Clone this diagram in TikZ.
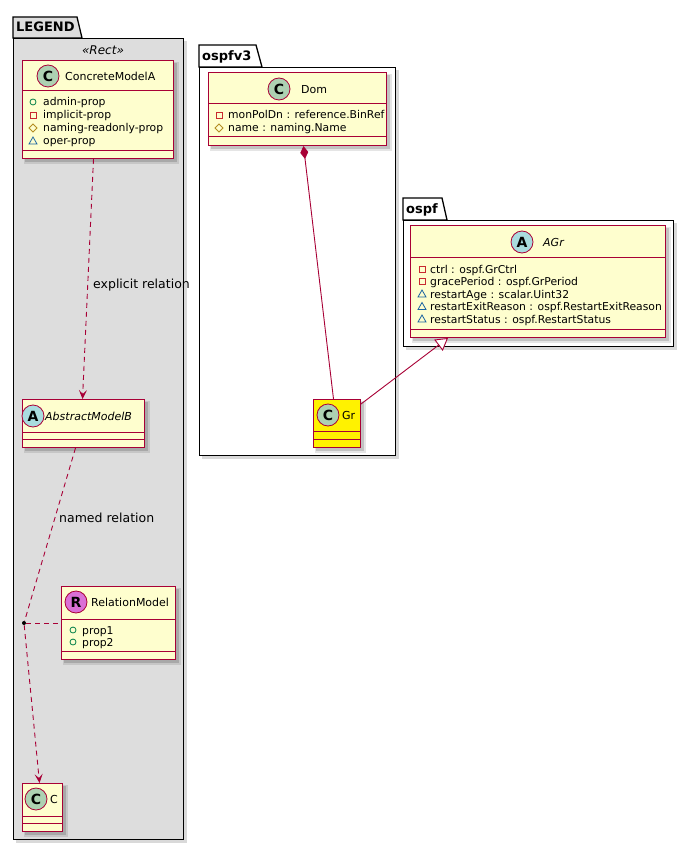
\documentclass[tikz,border=0pt]{standalone}
\usepackage{fontspec}
\setmainfont{DejaVu Sans}
\usetikzlibrary{arrows.meta,shapes.geometric}
\definecolor{bord}{HTML}{A80036}
\definecolor{clsfill}{HTML}{FEFECE}
\definecolor{pkgfill}{HTML}{DDDDDD}
\definecolor{circC}{HTML}{ADD1B2}
\definecolor{circA}{HTML}{A9DCDF}
\definecolor{circR}{HTML}{DA70D6}
\definecolor{vpub}{HTML}{038048}
\definecolor{vpriv}{HTML}{C82930}
\definecolor{vprot}{HTML}{B38D22}
\definecolor{vpkg}{HTML}{1963A0}
\tikzset{
  clsbox/.style={draw=bord, line width=1pt, rectangle, inner sep=0pt, anchor=north west},
  divline/.style={draw=bord, line width=1pt},
  pkgbox/.style={draw=black, line width=1.3pt, rectangle, inner sep=0pt, anchor=north west},
  pkgtab/.style={draw=black, line width=1.3pt, line join=miter},
  pkgtitle/.style={font=\bfseries\fontsize{13}{14}\selectfont, anchor=base west, inner sep=0pt},
  badge/.style={circle, draw=bord, line width=0.8pt, minimum size=22pt, inner sep=0pt,
    font=\bfseries\fontsize{14}{14}\selectfont},
  cname/.style={font=\fontsize{11}{13}\selectfont, anchor=base west, inner sep=0pt},
  attrtext/.style={font=\fontsize{10.8}{12}\selectfont, anchor=base west, inner sep=0pt},
  lbl/.style={font=\fontsize{12.5}{14}\selectfont, anchor=base west, inner sep=0pt},
  rel/.style={draw=bord, line width=0.9pt},
  reldash/.style={rel, dash pattern=on 5pt off 4pt},
}
% class box: name, x1, y1, w, h, fill, div1, div2
\newcommand{\umlclass}[8]{%
  \fill[black,opacity=.10] (#2+2,#3+2) rectangle (#2+#4+6,#3+#5+6);
  \fill[black,opacity=.15] (#2+3,#3+3) rectangle (#2+#4+4,#3+#5+4);
  \node[clsbox, fill=#6, minimum width=#4pt, minimum height=#5pt] (#1) at (#2,#3) {};
  \draw[divline] (#2,#7) -- (#2+#4,#7);
  \draw[divline] (#2,#8) -- (#2+#4,#8);
}
% attribute: name, x icon, y center, type, text
\newcommand{\attrpub}[2]{\draw[vpub, line width=0.8pt] (#1,#2) circle (3pt);}
\newcommand{\attrpriv}[2]{\draw[vpriv, line width=0.8pt] (#1-3,#2-3) rectangle (#1+3,#2+3);}
\newcommand{\attrprot}[2]{\draw[vprot, line width=0.8pt] (#1,#2-4) -- (#1+4,#2) -- (#1,#2+4) -- (#1-4,#2) -- cycle;}
\newcommand{\attrpkg}[2]{\draw[vpkg, line width=0.8pt, line join=miter] (#1-4,#2+3) -- (#1+4,#2+3) -- (#1,#2-4) -- cycle;}
\begin{document}
\begin{tikzpicture}[x=1pt,y=-1pt]
\useasboundingbox (0,0) rectangle (693,850);
\fill[white] (0,0) rectangle (693,850);

% ================= LEGEND package =================
\fill[black,opacity=.15] (16,41) rectangle (187,843);
\node[pkgbox, fill=pkgfill, minimum width=170pt, minimum height=801pt] (legend) at (13,38) {};
\draw[pkgtab, fill=pkgfill] (13,38) -- (13,17) -- (77,17) -- (82,38) -- cycle;
\node[pkgtitle] (legendT) at (16,32) {LEGEND};
\node[font=\itshape\fontsize{12}{14}\selectfont, inner sep=0pt] (rectst) at (103,50) {«Rect»};

% ConcreteModelA
\umlclass{concA}{22}{60}{151}{98}{clsfill}{91}{151}
\node[badge, fill=circC] (concAb) at (48,76) {C};
\node[cname] (concAn) at (65,80.5) {ConcreteModelA};
\attrpub{33}{102}  \node[attrtext] (ca1) at (43,106) {admin-prop};
\attrpriv{33}{115} \node[attrtext] (ca2) at (43,119) {implicit-prop};
\attrprot{33}{128} \node[attrtext] (ca3) at (43,132) {naming-readonly-prop};
\attrpkg{33}{141}  \node[attrtext] (ca4) at (43,145) {oper-prop};

% AbstractModelB
\umlclass{absB}{22}{399}{122}{48}{clsfill}{432}{439}
\node[badge, fill=circA] (absBb) at (33,416) {A};
\node[cname, font=\itshape\fontsize{11}{13}\selectfont] (absBn) at (45,420.5) {AbstractModelB};

% RelationModel
\umlclass{relM}{61}{586}{114}{73}{clsfill}{619}{651}
\node[badge, fill=circR] (relMb) at (76,602) {R};
\node[cname] (relMn) at (91,606.5) {RelationModel};
\attrpub{73}{630} \node[attrtext] (rm1) at (82,634) {prop1};
\attrpub{73}{642} \node[attrtext] (rm2) at (82,646) {prop2};

% C
\umlclass{clsC}{22}{783}{40}{48}{clsfill}{816}{823}
\node[badge, fill=circC] (clsCb) at (36,799) {C};
\node[cname] (clsCn) at (50,803.5) {C};

% relations in legend
\node[circle, fill=black, inner sep=0pt, minimum size=4pt] (dot) at (24,623) {};
\draw[reldash, -{Stealth[length=9pt,width=8pt,inset=4pt]}] ([xshift=-4.5pt]concA.south) -- ([xshift=-1pt]absB.north);
\node[lbl] (lblexp) at (93,288) {explicit relation};
\draw[reldash] ([xshift=-8pt]absB.south) -- (dot);
\node[lbl] (lblnamed) at (59,522) {named relation};
\draw[reldash, -{Stealth[length=9pt,width=8pt,inset=4pt]}] (dot) -- ([xshift=-3pt]clsC.north);
\draw[reldash] (dot) -- (relM.west);

% ================= ospfv3 package =================
\fill[black,opacity=.15] (202,70) rectangle (399,459);
\node[pkgbox, fill=white, minimum width=196pt, minimum height=388pt] (ospfv3) at (199,67) {};
\draw[pkgtab, fill=white] (199,67) -- (199,45) -- (256,45) -- (262,67) -- cycle;
\node[pkgtitle] (ospfv3T) at (202,61) {ospfv3};

% Dom
\umlclass{dom}{208}{72}{178}{73}{clsfill}{104}{137}
\node[badge, fill=circC] (domb) at (279,89) {C};
\node[cname] (domn) at (301,93.5) {Dom};
\attrpriv{219}{115} \node[attrtext] (d1) at (228,119) {monPolDn : reference.BinRef};
\attrprot{219}{128} \node[attrtext] (d2) at (228,132) {name : naming.Name};

% Gr
\umlclass{gr}{313}{399}{47}{48}{yellow}{431}{439}
\node[badge, fill=circC] (grb) at (328,415) {C};
\node[cname] (grn) at (342,419.5) {Gr};

% ================= ospf package =================
\fill[black,opacity=.15] (406,223) rectangle (677,350);
\node[pkgbox, fill=white, minimum width=270pt, minimum height=126pt] (ospf) at (403,220) {};
\draw[pkgtab, fill=white] (403,220) -- (403,198) -- (442,198) -- (447,220) -- cycle;
\node[pkgtitle] (ospfT) at (406,214) {ospf};

% AGr
\umlclass{agr}{410}{225}{255}{112}{clsfill}{257}{329}
\node[badge, fill=circA] (agrb) at (522,242) {A};
\node[cname, font=\itshape\fontsize{11}{13}\selectfont] (agrn) at (543,246.5) {AGr};
\attrpriv{422}{269}   \node[attrtext] (a1) at (430,273) {ctrl : ospf.GrCtrl};
\attrpriv{422}{281.5} \node[attrtext] (a2) at (430,285.5) {gracePeriod : ospf.GrPeriod};
\attrpkg{422}{294}    \node[attrtext] (a3) at (430,298) {restartAge : scalar.Uint32};
\attrpkg{422}{306.5}  \node[attrtext] (a4) at (430,310.5) {restartExitReason : ospf.RestartExitReason};
\attrpkg{422}{319}    \node[attrtext] (a5) at (430,323) {restartStatus : ospf.RestartStatus};

% relations
\draw[rel, {Diamond[length=13pt,width=8pt,fill=bord]}-] ([xshift=6pt]dom.south) -- ([xshift=-3.5pt]gr.north);
\draw[rel, -{Triangle[length=12pt,width=14pt,fill=white]}] ([yshift=-5pt]gr.north east) -- ([xshift=-90pt]agr.south);
\end{tikzpicture}
\end{document}
